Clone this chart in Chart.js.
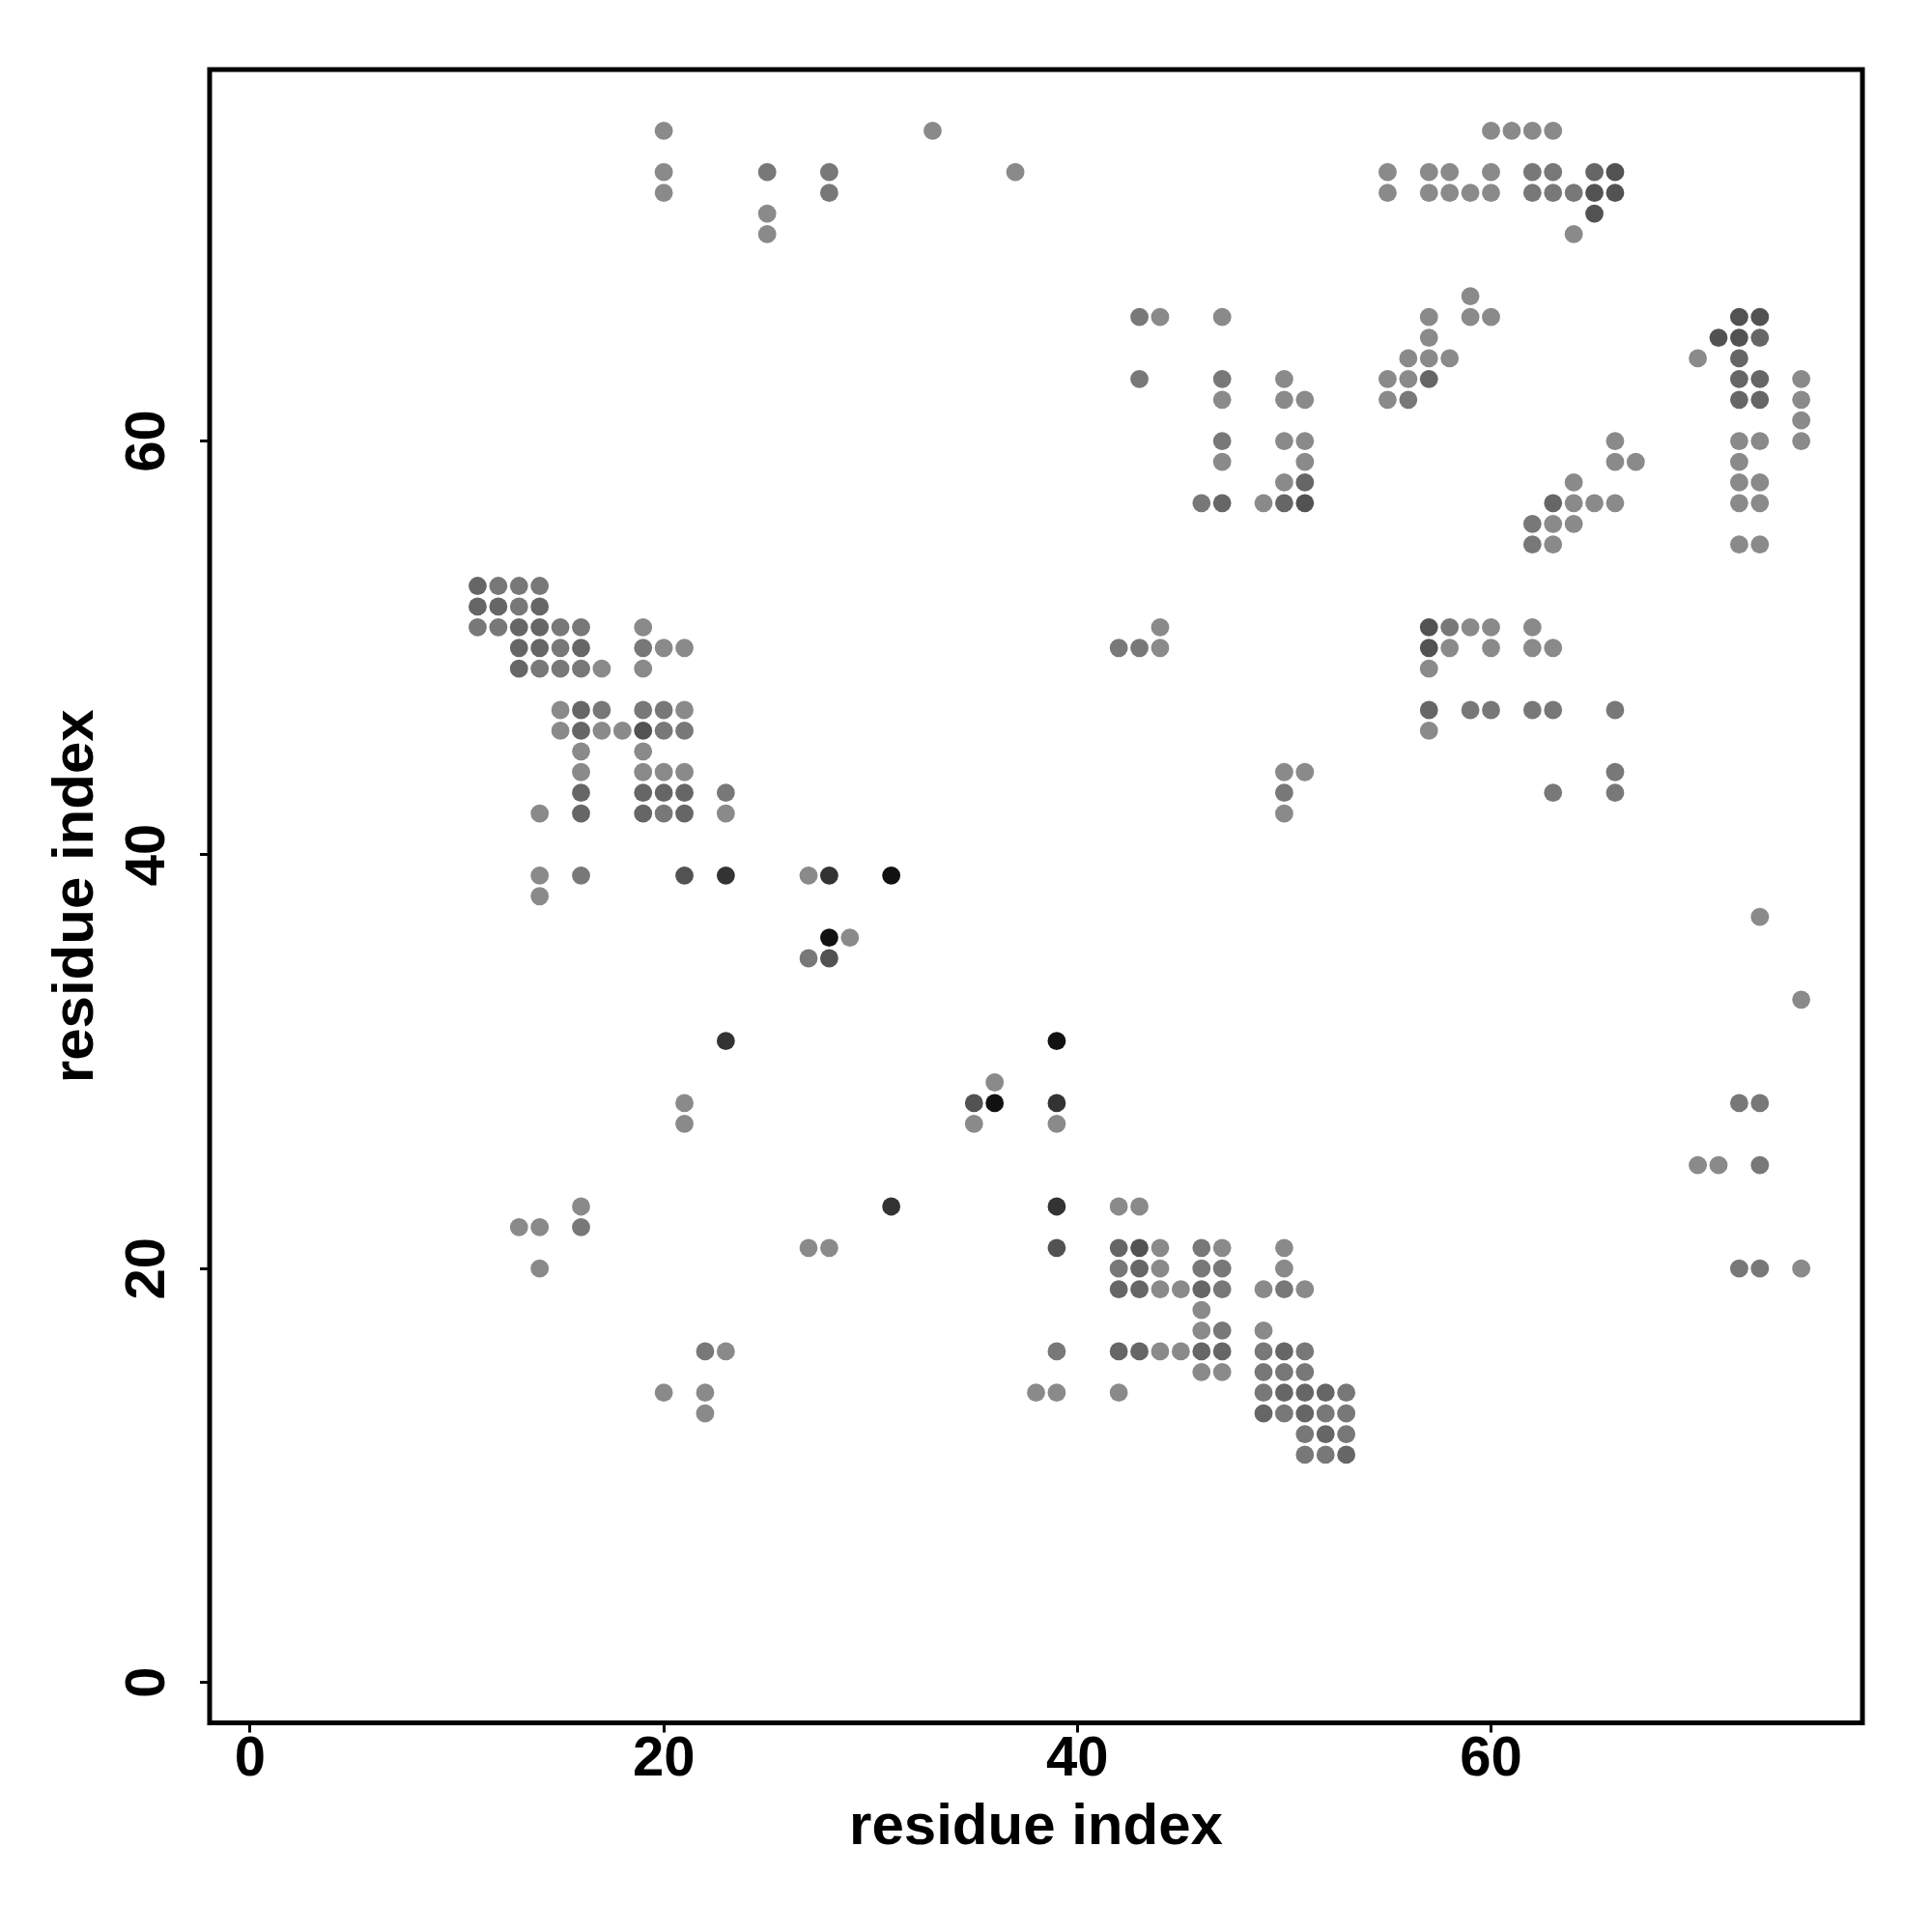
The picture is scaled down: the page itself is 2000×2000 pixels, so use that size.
<!DOCTYPE html>
<html>
<head>
<meta charset="utf-8">
<title>residue contact map</title>
<script src="https://cdn.jsdelivr.net/npm/chart.js@4.4.1/dist/chart.umd.min.js"></script>
<style>
  html, body { margin: 0; padding: 0; background: #ffffff; }
  #wrap { width: 2000px; height: 2000px; }
</style>
</head>
<body>
<div id="wrap"><canvas id="contact-map" width="2000" height="2000"></canvas></div>
<script>
(function () {
  'use strict';

  // contacts grouped by how dark the dot is in the picture (lightest first)
  const contactsLight = [
    [20,75],[20,73],[20,72],[25,71],[25,70],
    [33,75],[37,73],[44,66],[47,66],[50,63],[47,62],[50,62],[51,62],[50,60],[51,60],[47,59],[51,59],[50,58],[49,57],
    [60,75],[61,75],[62,75],[63,75],[55,73],[57,73],[58,73],[60,73],[55,72],[57,72],[58,72],[59,72],[60,72],
    [64,70],[59,67],[57,66],[59,66],[60,66],[57,65],[56,64],[57,64],[58,64],[70,64],[55,63],[56,63],[75,63],
    [55,62],[75,62],[75,61],[66,60],[72,60],[73,60],[75,60],[66,59],[67,59],[72,59],[64,58],[72,58],[73,58],
    [64,57],[65,57],[66,57],[72,57],[73,57],[63,56],[64,56],[63,55],[72,55],[73,55],
    [19,51],[20,50],[21,50],[17,49],[19,49],[15,47],[21,47],[15,46],[17,46],[18,46],[16,45],[19,45],
    [16,44],[19,44],[20,44],[21,44],[14,42],[23,42],[14,39],[27,39],[14,38],[29,36],
    [44,51],[44,50],[50,44],[51,44],[50,42],
    [59,51],[60,51],[62,51],[58,50],[60,50],[62,50],[63,50],[57,49],[57,46],[73,37],[75,33],
    [21,28],[21,27],[16,23],[13,22],[14,22],[14,20],[27,21],[28,21],[23,16],[20,14],[22,14],[22,13],
    [36,29],[35,27],[39,27],[42,23],[43,23],[44,21],[47,21],[50,21],[44,20],[50,20],[44,19],[45,19],
    [49,19],[51,19],[46,18],[46,17],[49,17],[44,16],[45,16],[46,15],[47,15],[38,14],[39,14],[42,14],
    [70,25],[71,25],[75,20]
  ];
  const contactsMid = [
    [25,73],[28,73],[28,72],
    [43,66],[43,63],[47,63],[47,60],[46,57],
    [62,73],[63,73],[62,72],[63,72],[64,72],[56,62],[62,56],[62,55],
    [12,53],[13,53],[14,53],[13,52],[11,51],[12,51],[15,51],[16,51],[15,50],[19,50],[14,49],[15,49],[16,49],
    [17,47],[19,47],[20,47],[20,46],[21,46],[23,43],[20,42],[16,39],[27,35],
    [42,50],[43,50],[50,43],
    [58,51],[59,47],[60,47],[62,47],[63,47],[66,47],[66,44],[63,43],[66,43],
    [16,22],[22,16],
    [46,21],[42,20],[46,20],[47,20],[47,19],[50,19],[47,17],[39,16],[49,16],[51,16],[49,15],[50,15],[51,15],
    [49,14],[53,14],[50,13],[52,13],[53,13],[51,12],[53,12],[51,11],[52,11],
    [72,28],[73,28],[73,25],[72,20],[73,20]
  ];
  const contactsDark = [
    [51,58],[47,57],[50,57],
    [65,73],[73,65],[72,64],[57,63],[72,63],[73,63],[72,62],[73,62],[63,57],
    [11,53],[11,52],[12,52],[14,52],[13,51],[14,51],[13,50],[14,50],[16,50],[13,49],[16,47],[16,46],
    [16,43],[19,43],[20,43],[21,43],[16,42],[19,42],[21,42],
    [57,47],
    [42,21],[43,20],[42,19],[43,19],[46,19],[42,16],[43,16],[46,16],[47,16],[50,16],[50,14],[51,14],[52,14],
    [49,13],[51,13],[52,12],[53,11]
  ];
  const contactsDarker = [
    [51,57],[66,73],[65,72],[66,72],[65,71],[72,66],[73,66],[71,65],[72,65],
    [19,46],[21,39],[28,35],[57,51],[57,50],[35,28],[39,21],[43,21]
  ];
  const contactsDarkest = [[23,39],[28,39],[23,31],[31,23],[39,28],[39,23]];
  const contactsBlack = [[31,39],[28,36],[39,31],[36,28]];

  const shadeColors = ['#8a8a8a', '#787878', '#666666', '#525252', '#333333', '#111111'];
  const tickValues = [0, 20, 40, 60];
  const axisMin = -1.96;
  const axisMax = 77.96;
  const axisTitle = 'residue index';

  const fontFamily = '"Liberation Sans", Arial, Helvetica, sans-serif';

  const toPoints = (pairs) => pairs.map(p => ({ x: p[0], y: p[1] }));

  const groups = [contactsLight, contactsMid, contactsDark, contactsDarker, contactsDarkest, contactsBlack];
  const datasets = groups.map((pairs, i) => ({
    data: toPoints(pairs),
    backgroundColor: shadeColors[i],
    borderWidth: 0,
    pointRadius: 9.4,
    pointHoverRadius: 9.4,
    pointStyle: 'circle'
  }));

  const fixedTicks = function (scale) {
    scale.ticks = tickValues.map(v => ({ value: v }));
  };

  // frame round the plot and the tick labels (y labels are turned like the title)
  const framePlugin = {
    id: 'frameAndLabels',
    afterDraw: function (chart) {
      const ctx = chart.ctx;
      const area = chart.chartArea;
      const xs = chart.scales.x;
      const ys = chart.scales.y;
      ctx.save();
      ctx.strokeStyle = '#000';
      ctx.lineWidth = 5;
      ctx.strokeRect(area.left, area.top, area.right - area.left, area.bottom - area.top);

      ctx.fillStyle = '#000';
      ctx.font = 'bold 58px ' + fontFamily;
      ctx.textAlign = 'center';
      ctx.textBaseline = 'alphabetic';
      tickValues.forEach(v => {
        ctx.fillText(String(v), xs.getPixelForValue(v), 1838);
      });
      tickValues.forEach(v => {
        ctx.save();
        ctx.translate(170, ys.getPixelForValue(v));
        ctx.rotate(-Math.PI / 2);
        ctx.fillText(String(v), 0, 0);
        ctx.restore();
      });
      ctx.restore();
    }
  };

  const axisCommon = {
    type: 'linear',
    min: axisMin,
    max: axisMax,
    afterBuildTicks: fixedTicks,
    border: { display: false },
    grid: {
      drawOnChartArea: false,
      drawTicks: true,
      tickLength: 10,
      lineWidth: 3,
      color: '#000'
    },
    ticks: { display: false }
  };

  new Chart(document.getElementById('contact-map'), {
    type: 'scatter',
    data: { datasets: datasets },
    options: {
      responsive: false,
      animation: false,
      events: [],
      devicePixelRatio: 1,
      layout: { padding: { left: 0, top: 72, right: 72, bottom: 0 } },
      plugins: {
        legend: { display: false },
        tooltip: { enabled: false }
      },
      scales: {
        x: Object.assign({}, axisCommon, {
          position: 'bottom',
          afterFit: function (scale) { scale.height = 216.5; },
          title: {
            display: true,
            text: axisTitle,
            color: '#000',
            font: { family: fontFamily, size: 60, weight: 'bold' },
            padding: { top: 0, bottom: 72 }
          }
        }),
        y: Object.assign({}, axisCommon, {
          position: 'left',
          afterFit: function (scale) { scale.width = 217; },
          title: {
            display: true,
            text: axisTitle,
            color: '#000',
            font: { family: fontFamily, size: 60, weight: 'bold' },
            padding: { top: 43, bottom: 0 }
          }
        })
      }
    },
    plugins: [framePlugin]
  });
})();
</script>
</body>
</html>
